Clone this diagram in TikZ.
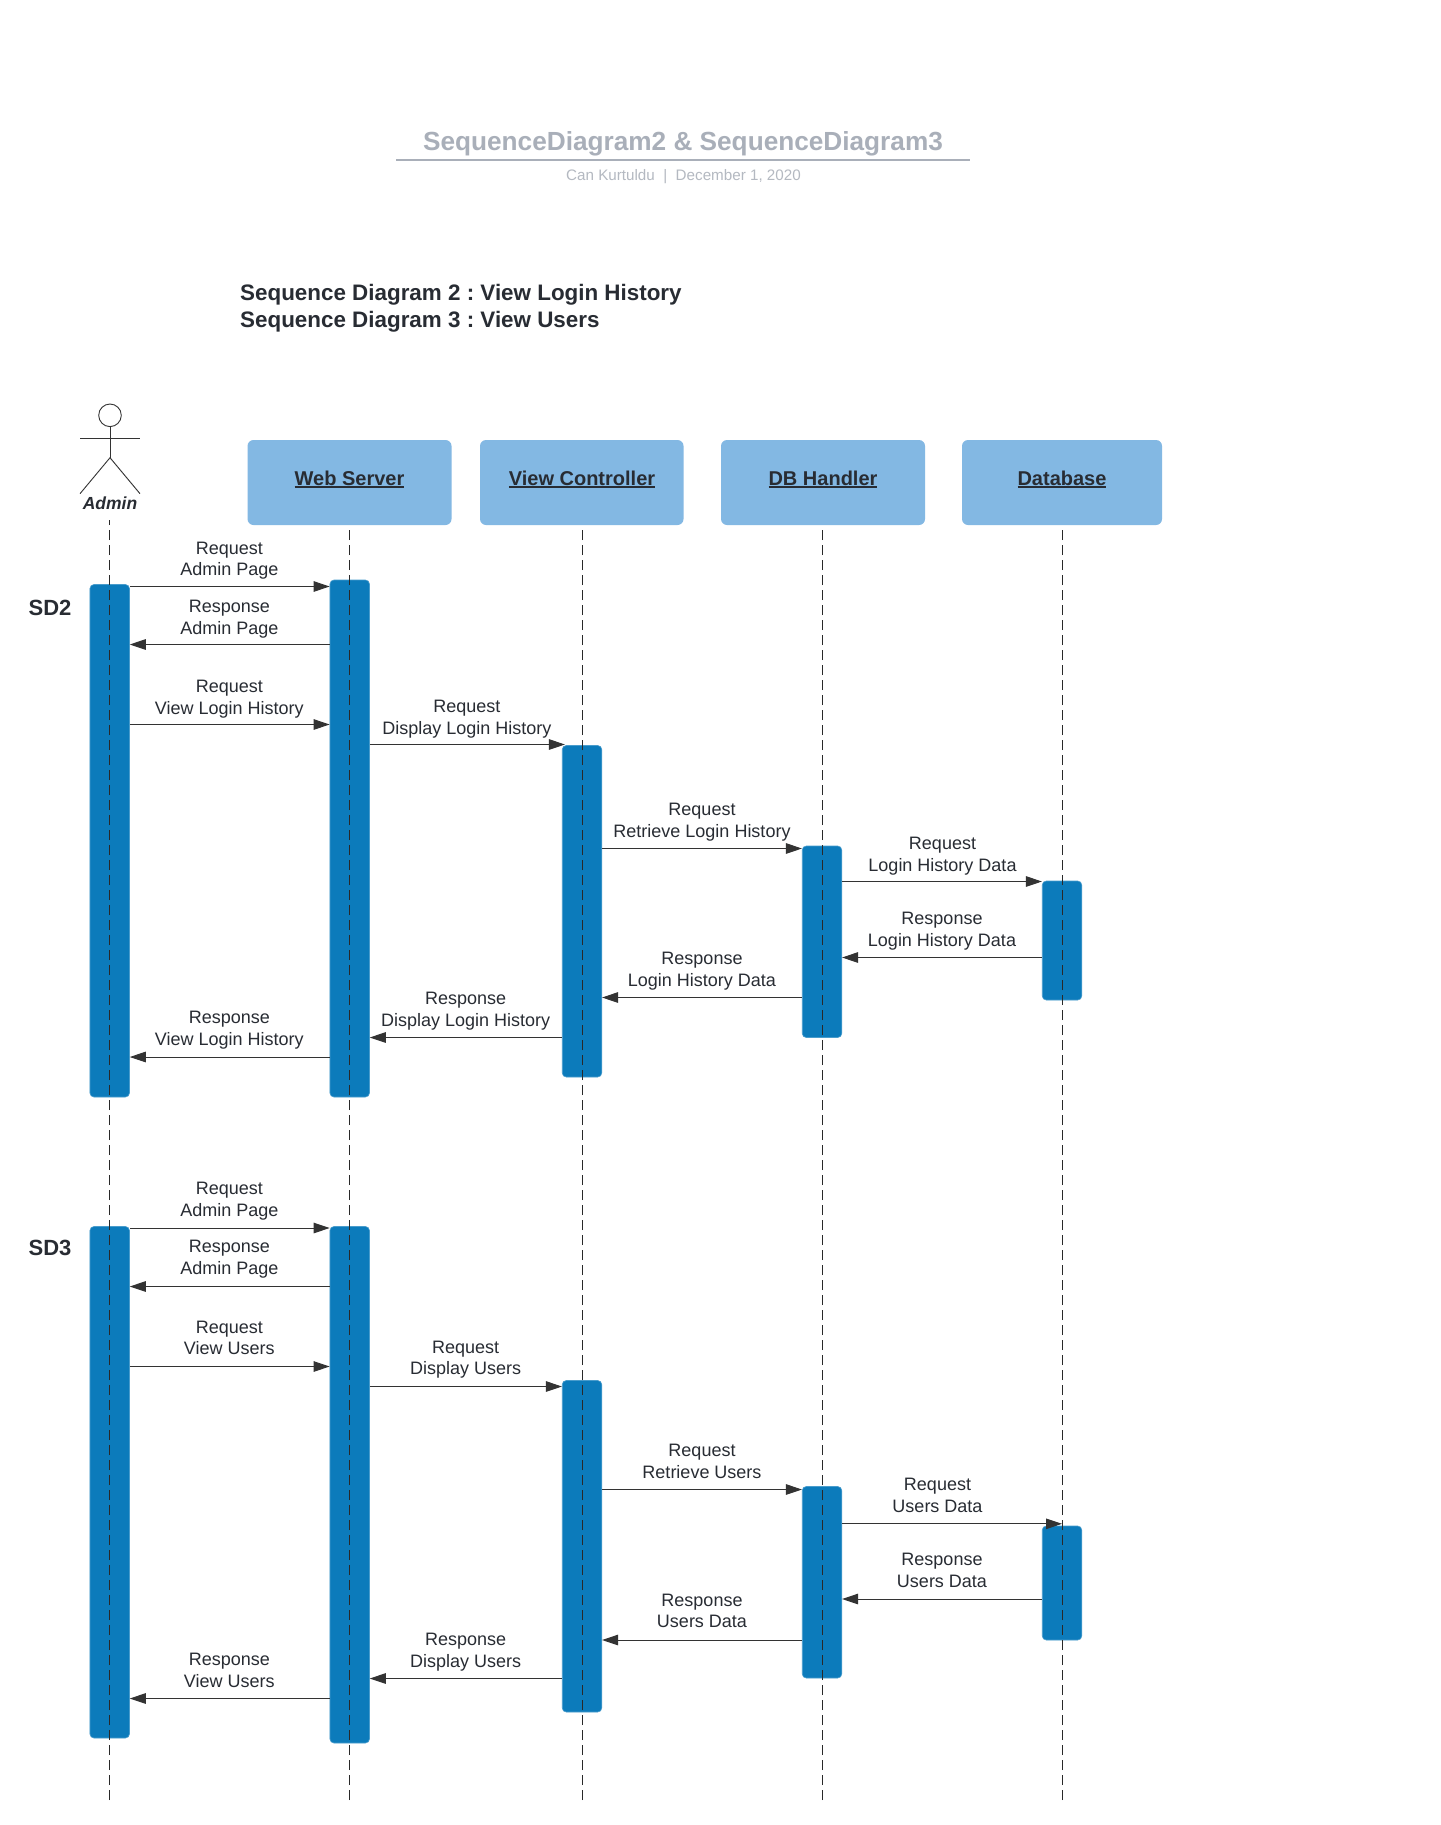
\documentclass[tikz,border=0pt]{standalone}
\usepackage{fontspec}
\setmainfont{Liberation Sans}
\usetikzlibrary{arrows.meta}
\definecolor{hdr}{HTML}{83B8E3}
\definecolor{act}{HTML}{0C7BBB}
\definecolor{ink}{HTML}{282C33}
\definecolor{ttl}{HTML}{A9AFB9}
\definecolor{sub}{HTML}{B4B9C1}
\definecolor{wire}{HTML}{333333}
\newcommand\ulbox[1]{\setbox0\hbox{#1}\rlap{\rule[-2.6pt]{\wd0}{1.5pt}}\box0}
\tikzset{
  header/.style={fill=hdr,rounded corners=6pt,inner sep=0pt,text=ink,font=\fontsize{20}{24}\selectfont\bfseries},
  actbox/.style={fill=act,draw=act!75!white,line width=0.6pt,rounded corners=4pt,inner sep=0pt,minimum width=39.5pt},
  life/.style={draw=wire!80!black,line width=1.1pt,dash pattern=on 10pt off 5pt},
  msg/.style={draw=wire,line width=1pt,-{Triangle[length=16pt,width=10.5pt,fill=wire]}},
  lbl/.style={align=center,text=ink,inner sep=0pt,font=\fontsize{18}{21.6}\selectfont},
  sdlbl/.style={text=ink,inner sep=0pt,font=\fontsize{22}{26}\selectfont\bfseries},
  stick/.style={draw=wire,line width=0.9pt},
}
\newcommand\actbar[5]{\node[actbox,minimum height=#5pt-#4pt] (#1) at (#2,{(#4+#5)/2}) {};}
\newcommand\headbox[5]{\node[header,minimum width=#4pt-#3pt,minimum height=85pt] (#1) at ({(#3+#4)/2},482.5) {};\node[header,fill=none,anchor=base] (#1t) at (#5,485) {\ulbox{#2}};}
\begin{document}
\frenchspacing
\begin{tikzpicture}[x=1pt,y=-1pt]
\path[use as bounding box,fill=white] (0,0) rectangle (1440,1825);
% titles
\node[text=ttl,inner sep=0pt,font=\fontsize{26.2}{31}\selectfont\bfseries] (title) at (683,144) {SequenceDiagram2 \& SequenceDiagram3};
\coordinate (ruleL) at (396,160);
\coordinate (ruleR) at (970,160);
\draw[draw=ttl,line width=1.6pt] (ruleL) -- (ruleR);
\node[text=sub,inner sep=0pt,font=\fontsize{15.2}{18}\selectfont] (subt) at (683.5,177) {Can Kurtuldu~~|~~December 1, 2020};
\node[anchor=west,text=ink,inner sep=0pt,font=\fontsize{22.4}{26.8}\selectfont\bfseries,align=left] (heading) at (240,308) {Sequence Diagram 2 : View Login History\\Sequence Diagram 3 : View Users};
% actor
\node[circle,stick,minimum size=22.6pt,inner sep=0pt] (head) at (110,415.3) {};
\coordinate (armL) at (80,438);
\coordinate (armR) at (140,438);
\coordinate (hip) at (110,457.7);
\coordinate (legL) at (80,493.7);
\coordinate (legR) at (140,493.7);
\draw[stick] (head.south) -- (hip);
\draw[stick] (armL) -- (armR);
\draw[stick] (legL) -- (hip) -- (legR);
\node[text=ink,inner sep=0pt,font=\fontsize{17.5}{21}\selectfont\bfseries\itshape] (admin) at (110,503) {Admin};
% headers
\headbox{web}{Web Server}{247.5}{451.5}{349.5}
\headbox{view}{View Controller}{480}{683.5}{582}
\headbox{db}{DB Handler}{721}{925}{823}
\headbox{data}{Database}{962}{1162}{1062}
% activation bars SD2
\actbar{a1}{109.7}{}{584.5}{1097}
\actbar{w1}{349.7}{}{580}{1097}
\actbar{v1}{582}{}{745.5}{1077}
\actbar{d1}{822}{}{846}{1037.5}
\actbar{b1}{1062}{}{881}{1000}
% activation bars SD3
\actbar{a2}{109.7}{}{1226.5}{1738}
\actbar{w2}{349.7}{}{1226.5}{1743}
\actbar{v2}{582}{}{1380.5}{1712}
\actbar{d2}{822}{}{1486.5}{1678}
\actbar{b2}{1062}{}{1526}{1640}
% lifelines
\coordinate (lifeA) at (109.4,520);
\coordinate (endA) at (109.4,1800);
\coordinate (endW) at (349.4,1800);
\coordinate (endV) at (582.4,1800);
\coordinate (endD) at (822.4,1800);
\coordinate (endB) at (1062.4,1800);
\draw[life] (endA) -- (lifeA);
\draw[life] (endW) -- (web.south -| endW);
\draw[life] (endV) -- (view.south -| endV);
\draw[life] (endD) -- (db.south -| endD);
\draw[life] (endB) -- (data.south -| endB);
% SD labels
\node[sdlbl] (sd2) at (50,607.7) {SD2};
\node[sdlbl] (sd3) at (50,1248) {SD3};
% messages SD2
\draw[msg] (a1.east |- 0,586.5) -- (w1.west |- 0,586.5);
\draw[msg] (w1.west |- 0,644.5) -- (a1.east |- 0,644.5);
\draw[msg] (a1.east |- 0,724.5) -- (w1.west |- 0,724.5);
\draw[msg,shorten >=-3pt] (w1.east |- 0,744.5) -- (v1.west |- 0,744.5);
\draw[msg] (v1.east |- 0,848.5) -- (d1.west |- 0,848.5);
\draw[msg] (d1.east |- 0,881.5) -- (b1.west |- 0,881.5);
\draw[msg] (b1.west |- 0,957.5) -- (d1.east |- 0,957.5);
\draw[msg] (d1.west |- 0,997.5) -- (v1.east |- 0,997.5);
\draw[msg] (v1.west |- 0,1037.5) -- (w1.east |- 0,1037.5);
\draw[msg] (w1.west |- 0,1057) -- (a1.east |- 0,1057);
% messages SD3
\draw[msg] (a2.east |- 0,1228) -- (w2.west |- 0,1228);
\draw[msg] (w2.west |- 0,1286.5) -- (a2.east |- 0,1286.5);
\draw[msg] (a2.east |- 0,1366.5) -- (w2.west |- 0,1366.5);
\draw[msg] (w2.east |- 0,1386.5) -- (v2.west |- 0,1386.5);
\draw[msg] (v2.east |- 0,1489.5) -- (d2.west |- 0,1489.5);
\draw[msg] (d2.east |- 0,1523.8) -- (b2.north |- 0,1523.8);
\draw[msg] (b2.west |- 0,1599) -- (d2.east |- 0,1599);
\draw[msg] (d2.west |- 0,1640) -- (v2.east |- 0,1640);
\draw[msg] (v2.west |- 0,1678.5) -- (w2.east |- 0,1678.5);
\draw[msg] (w2.west |- 0,1698.5) -- (a2.east |- 0,1698.5);
% labels SD2
\node[lbl] (m1) at (229.3,560.7) {Request\\Admin Page};
\node[lbl] (m2) at (229.3,619) {Response\\Admin Page};
\node[lbl] (m3) at (229.3,699.3) {Request\\View Login History};
\node[lbl] (m4) at (466.8,719) {Request\\Display Login History};
\node[lbl] (m5) at (702,822) {Request\\Retrieve Login History};
\node[lbl] (m6) at (942.5,855.9) {Request\\Login History Data};
\node[lbl] (m7) at (942,931) {Response\\Login History Data};
\node[lbl] (m8) at (702,971.2) {Response\\Login History Data};
\node[lbl] (m9) at (465.6,1011.3) {Response\\Display Login History};
\node[lbl] (m10) at (229.3,1030) {Response\\View Login History};
% labels SD3
\node[lbl] (n1) at (229.3,1201.3) {Request\\Admin Page};
\node[lbl] (n2) at (229.3,1259.2) {Response\\Admin Page};
\node[lbl] (n3) at (229.3,1338) {Request\\View Users};
\node[lbl] (n4) at (465.6,1359.7) {Request\\Display Users};
\node[lbl] (n5) at (702,1461.6) {Request\\Retrieve Users};
\node[lbl] (n6) at (937.5,1495.3) {Request\\Users Data};
\node[lbl] (n7) at (942,1570.4) {Response\\Users Data};
\node[lbl] (n8) at (702,1611) {Response\\Users Data};
\node[lbl] (n9) at (465.6,1652.2) {Response\\Display Users};
\node[lbl] (n10) at (229.3,1670.5) {Response\\View Users};
\end{tikzpicture}
\end{document}
